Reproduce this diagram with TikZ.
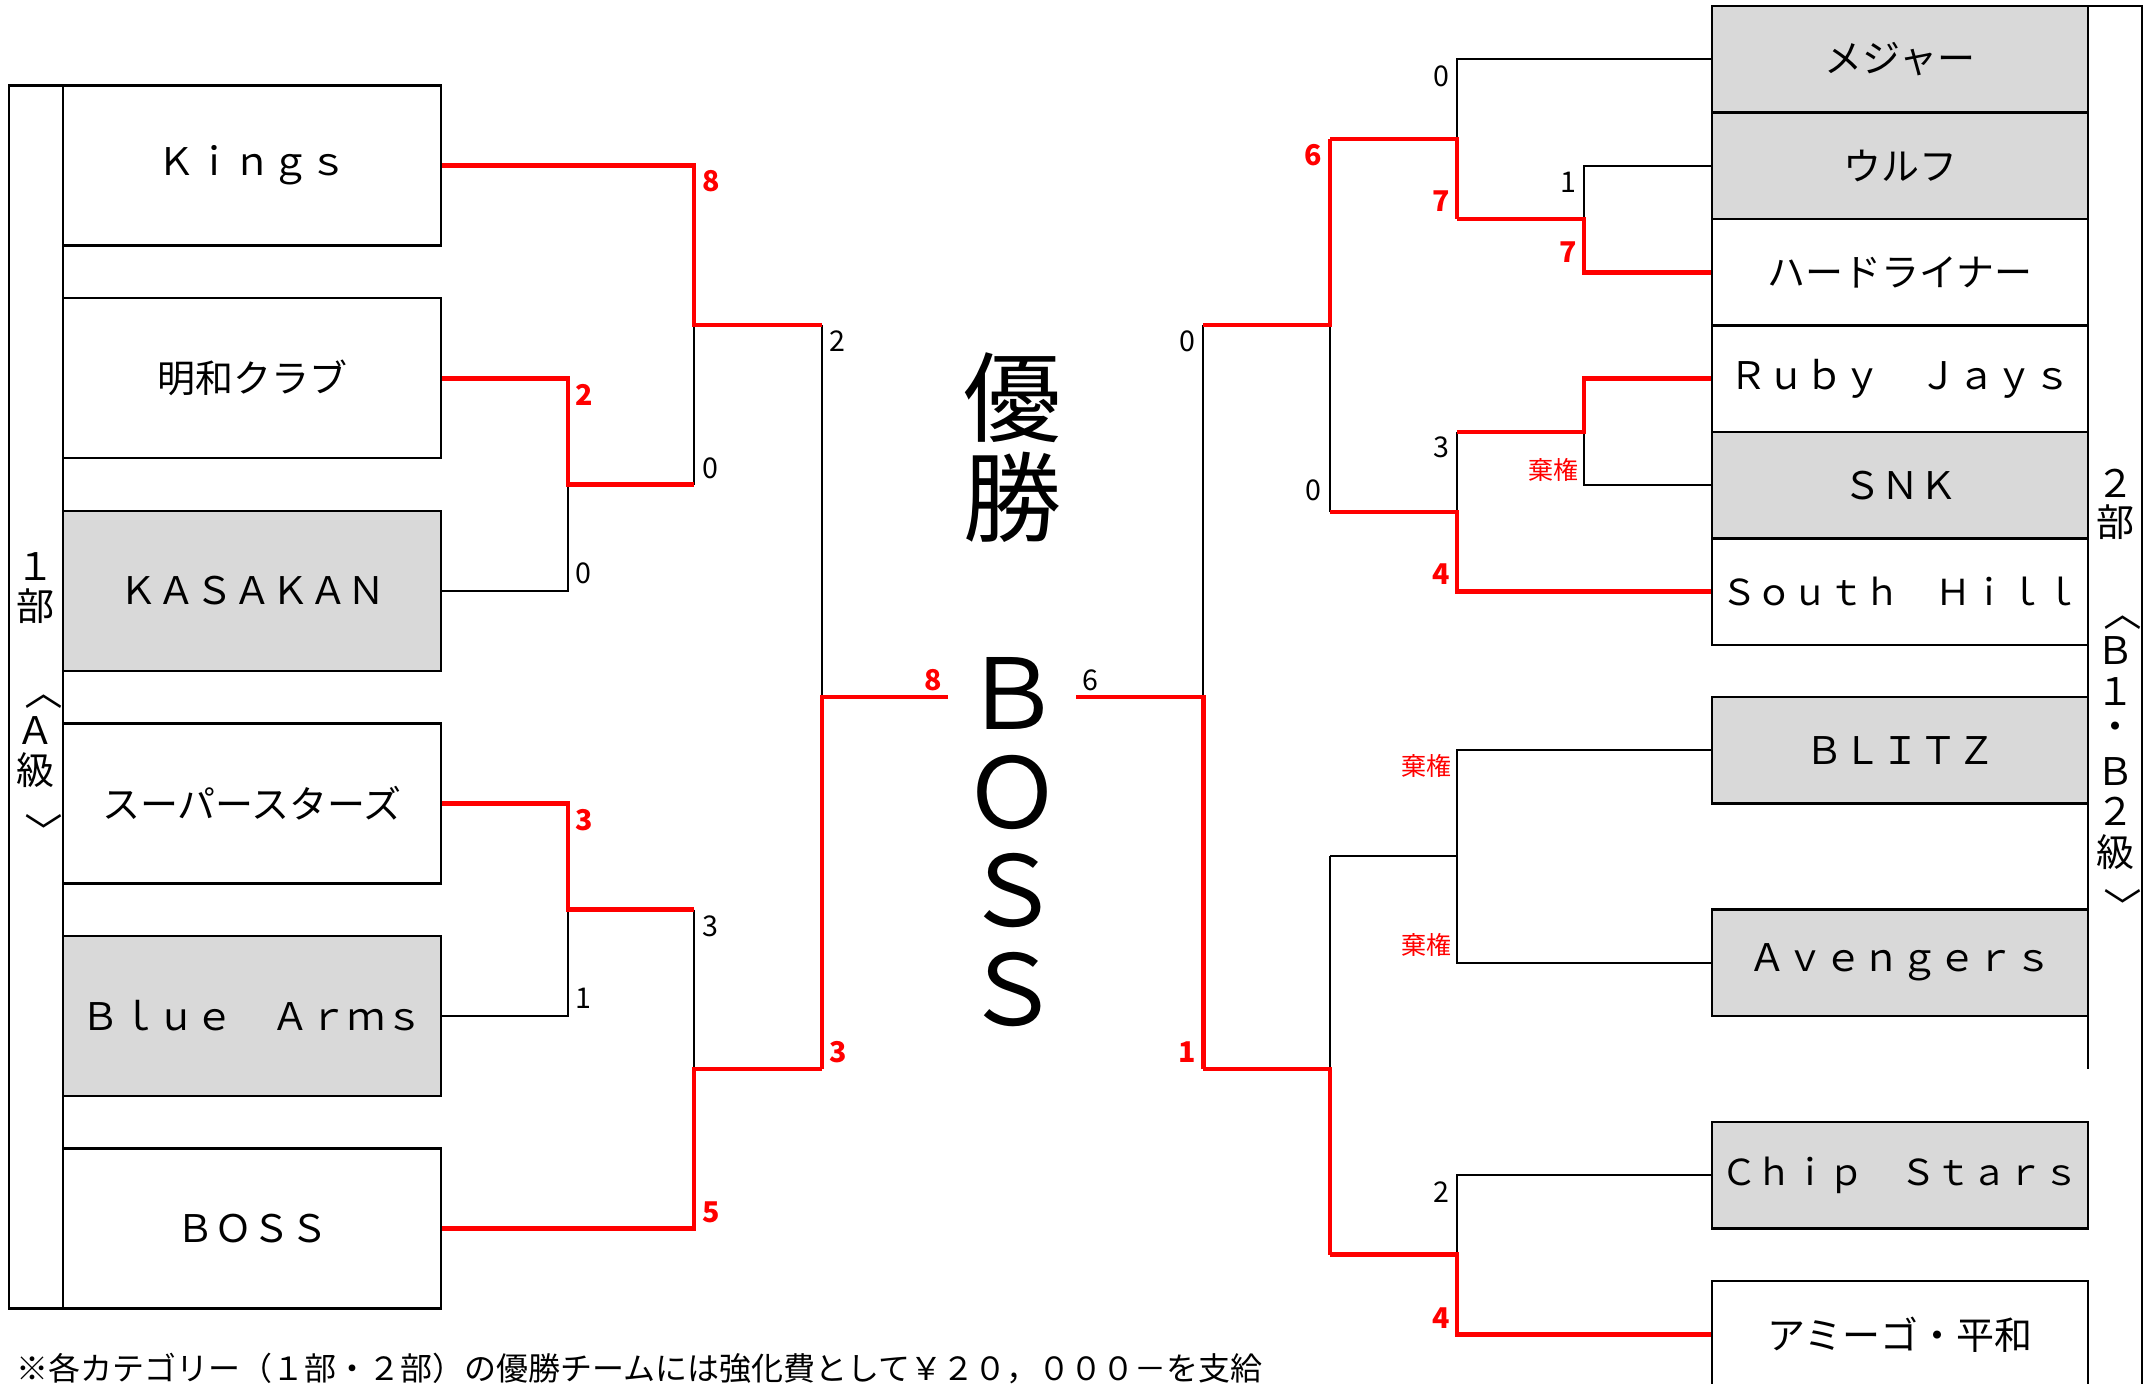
\documentclass[tikz,border=0pt]{standalone}
\usepackage{fontspec}
\setmainfont{Noto Sans CJK JP}
\definecolor{cellgray}{HTML}{D9D9D9}
\definecolor{winred}{HTML}{FF0000}
\newcommand{\teamname}[1]{\makebox[0pt][c]{#1}}
\begin{document}
\begin{tikzpicture}[x=0.5pt,y=-0.5pt,
  lose/.style={draw=black,line width=1pt},
  win/.style={draw=winred,line width=2.35pt},
  frame/.style={draw=black,line width=1.15pt},
  teamL/.style={draw=black,line width=1.15pt,fill=white,minimum width=189pt,minimum height=80pt,inner sep=0pt,font=\fontsize{19}{19}\selectfont},
  teamR/.style={draw=black,line width=1.15pt,fill=white,minimum width=188pt,minimum height=53.25pt,inner sep=0pt,font=\fontsize{19}{19}\selectfont},
  narrow/.style={font=\fontsize{17.9}{17.9}\selectfont},
  gray/.style={fill=cellgray},
  sc/.style={inner sep=0pt,font=\fontsize{14.3}{14.3}\selectfont,text=black},
  wsc/.style={inner sep=0pt,font=\fontsize{14.3}{14.3}\selectfont\bfseries,text=winred},
  kiken/.style={inner sep=0pt,font=\fontsize{12.5}{12.5}\selectfont,text=winred},
  vlab/.style={inner sep=0pt,text height=0.73em,text depth=0.03em,font=\fontsize{19}{19}\selectfont},
  vbr/.style={vlab,rotate=-90},
  big/.style={inner sep=0pt,font=\fontsize{49}{49}\selectfont},
  note/.style={inner sep=0pt,font=\fontsize{16}{16}\selectfont}]
\useasboundingbox (0,0) rectangle (2151,1383);
\clip (0,0) rectangle (2151,1383);

% ---------- left frame ----------
\draw[frame] (9.3,85.6) rectangle (63,1308.6);
\node[teamL] (kings) at (252,165.6) {\teamname{Ｋｉｎｇｓ}};
\node[teamL] (meiwa) at (252,378.2) {\teamname{明和クラブ}};
\node[teamL,gray] (kasakan) at (252,590.8) {\teamname{ＫＡＳＡＫＡＮ}};
\node[teamL] (super) at (252,803.4) {\teamname{スーパースターズ}};
\node[teamL,gray] (bluearms) at (252,1016) {\teamname{Ｂｌｕｅ　Ａｒｍｓ}};
\node[teamL] (boss) at (252,1228.6) {\teamname{ＢＯＳＳ}};

\node[vlab] (l1) at (36,573) {１};
\node[vlab] (l2) at (36,613) {部};
\node[vbr] (l3) at (36,691) {〈};
\node[vlab] (l4) at (36,737) {Ａ};
\node[vlab] (l5) at (36,777) {級};
\node[vbr] (l6) at (36,831) {〉};

% ---------- right frame ----------
\draw[frame] (2088,6) -- (2088,1069);
\draw[frame] (2088,6) -- (2142,6) -- (2142,1400);
\node[teamR,gray] (major) at (1900,59.25) {\teamname{メジャー}};
\node[teamR,gray] (wolf) at (1900,165.75) {\teamname{ウルフ}};
\node[teamR] (hard) at (1900,272.25) {\teamname{ハードライナー}};
\node[teamR] (ruby) at (1900,378.75) {\teamname{Ｒｕｂｙ　Ｊａｙｓ}};
\node[teamR,gray] (snk) at (1900,485.25) {\teamname{ＳＮＫ}};
\node[teamR,narrow] (south) at (1900,591.75) {\teamname{Ｓｏｕｔｈ　Ｈｉｌｌ}};
\node[teamR,gray] (blitz) at (1900,750.25) {\teamname{ＢＬＩＴＺ}};
\node[teamR,gray] (avengers) at (1900,962.75) {\teamname{Ａｖｅｎｇｅｒｓ}};
\node[teamR,gray,narrow] (chip) at (1900,1175.25) {\teamname{Ｃｈｉｐ　Ｓｔａｒｓ}};
\node[teamR] (amigo) at (1900,1334.25) {\teamname{アミーゴ・平和}};

\node[vlab] (r1) at (2115,490) {２};
\node[vlab] (r2) at (2115,529) {部};
\node[vbr] (r3) at (2115,612) {〈};
\node[vlab] (r4) at (2115,657) {Ｂ};
\node[vlab] (r5) at (2115,698) {１};
\node[vlab] (r6) at (2115,733) {・};
\node[vlab] (r7) at (2115,778) {Ｂ};
\node[vlab] (r8) at (2115,818) {２};
\node[vlab] (r9) at (2115,859) {級};
\node[vbr] (r10) at (2115,906) {〉};

% ---------- junctions ----------
\coordinate (mA) at (568,484.5);
\coordinate (mB) at (694,325);
\coordinate (mC) at (568,909.7);
\coordinate (mD) at (694,1069);
\coordinate (sL) at (822,697);
\coordinate (fL) at (948,697);
\coordinate (fR) at (1076,697);
\coordinate (sR) at (1203.4,697);
\coordinate (m1) at (1584,219);
\coordinate (m2) at (1457,139);
\coordinate (m3) at (1584,432);
\coordinate (m4) at (1457,512);
\coordinate (m5) at (1330,325);
\coordinate (m6) at (1457,856.4);
\coordinate (m7) at (1457,1254.75);
\coordinate (m8) at (1330,1069);

% ---------- left bracket ----------
\draw[lose] (kasakan.east) -| (mA);
\draw[lose] (mA -| mB) -- (mB);
\draw[lose] (bluearms.east) -| (mC);
\draw[lose] (mC -| mD) -- (mD);
\draw[lose] (mB -| sL) -- (sL);
\draw[win] (meiwa.east) -| (mA) -- (mA -| mB);
\draw[win] (kings.east) -| (mB) -- (mB -| sL);
\draw[win] (super.east) -| (mC) -- (mC -| mD);
\draw[win] (boss.east) -| (mD) -- (mD -| sL);
\draw[win] (mD -| sL) -- (sL) -- (fL);

% ---------- right bracket ----------
\draw[lose] (wolf.west) -| (m1);
\draw[lose] (major.west) -| (m2);
\draw[lose] (snk.west) -| (m3);
\draw[lose] (m3 -| m4) -- (m4);
\draw[lose] (m4 -| m5) -- (m5);
\draw[lose] (blitz.west) -| (m6);
\draw[lose] (avengers.west) -| (m6) -- (m6 -| m8);
\draw[lose] (chip.west) -| (m7);
\draw[lose] (m6 -| m8) -- (m8);
\draw[lose] (m5 -| sR) -- (sR);
\draw[win] (hard.west) -| (m1) -- (m1 -| m2);
\draw[win] (m1 -| m2) -- (m2) -- (m2 -| m5);
\draw[win] (ruby.west) -| (m3) -- (m3 -| m4);
\draw[win] (south.west) -| (m4) -- (m4 -| m5);
\draw[win] (m2 -| m5) -- (m5) -- (m5 -| sR);
\draw[win] (amigo.west) -| (m7) -- (m7 -| m8);
\draw[win] (m7 -| m8) -- (m8) -- (m8 -| sR);
\draw[win] (m8 -| sR) -- (sR) -- (fR);

% ---------- scores left ----------
\node[wsc,anchor=west] (s1) at (702,181) {8};
\node[wsc,anchor=west] (s2) at (575,394.5) {2};
\node[sc,anchor=west] (s3) at (702,468) {0};
\node[sc,anchor=west] (s4) at (575,573.5) {0};
\node[wsc,anchor=west] (s5) at (575,820) {3};
\node[sc,anchor=west] (s6) at (575,998) {1};
\node[sc,anchor=west] (s7) at (702,926) {3};
\node[wsc,anchor=west] (s8) at (702,1212) {5};
\node[sc,anchor=west] (s9) at (829.5,341.5) {2};
\node[wsc,anchor=west] (s10) at (829.5,1052) {3};
\node[wsc,anchor=east] (s11) at (942,680) {8};
\node[sc,anchor=west] (s12) at (1082,680) {6};

% ---------- scores right ----------
\node[sc,anchor=east] (t1) at (1450,76) {0};
\node[wsc,anchor=east] (t2) at (1450,201.5) {7};
\node[sc,anchor=east] (t3) at (1577,182) {1};
\node[wsc,anchor=east] (t4) at (1577,252.6) {7};
\node[wsc,anchor=east] (t5) at (1322,155) {6};
\node[sc,anchor=east] (t6) at (1196,341.5) {0};
\node[sc,anchor=east] (t7) at (1450,447.5) {3};
\node[kiken,anchor=east] (t8) at (1579,470) {棄権};
\node[sc,anchor=east] (t9) at (1322,490) {0};
\node[wsc,anchor=east] (t10) at (1450,574) {4};
\node[kiken,anchor=east] (t11) at (1452,765.5) {棄権};
\node[kiken,anchor=east] (t12) at (1452,945) {棄権};
\node[wsc,anchor=east] (t13) at (1196,1052) {1};
\node[sc,anchor=east] (t14) at (1450,1192) {2};
\node[wsc,anchor=east] (t15) at (1450,1318.5) {4};

% ---------- centre ----------
\node[big] (c1) at (1012,398) {優};
\node[big] (c2) at (1012,497) {勝};
\node[big] (c3) at (1012,693) {Ｂ};
\node[big] (c4) at (1012,792) {Ｏ};
\node[big] (c5) at (1012,891) {Ｓ};
\node[big] (c6) at (1012,990) {Ｓ};

% ---------- footnote ----------
\node[note,anchor=west] (foot) at (16,1368) {※各カテゴリー（１部・２部）の優勝チームには強化費として￥２０，０００－を支給};
\end{tikzpicture}
\end{document}
